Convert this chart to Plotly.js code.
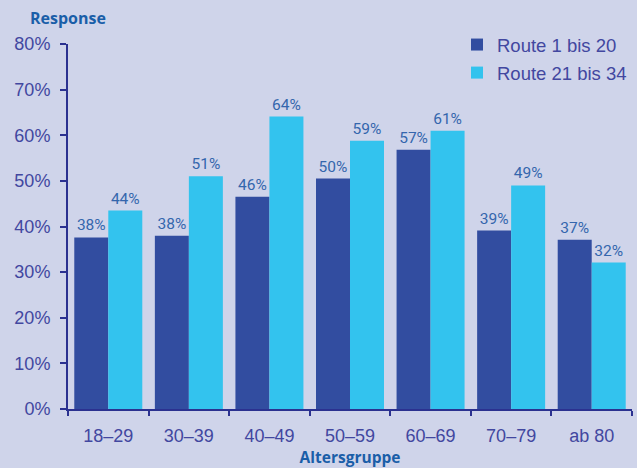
<!DOCTYPE html>
<html>
<head>
<meta charset="utf-8">
<script src="https://cdn.plot.ly/plotly-3.0.1.min.js"></script>
<style>html,body{margin:0;padding:0;background:#cfd4ea;}</style>
</head>
<body>
<div id="chart" style="width:637px;height:468px;"></div>
<script>
const categories = ["18–29", "30–39", "40–49", "50–59", "60–69", "70–79", "ab 80"];
const route1Values = [37.6, 38.0, 46.5, 50.5, 56.8, 39.1, 37.1];
const route1Labels = ["38%", "38%", "46%", "50%", "57%", "39%", "37%"];
const route2Values = [43.5, 51.0, 64.1, 58.8, 61.0, 49.0, 32.1];
const route2Labels = ["44%", "51%", "64%", "59%", "61%", "49%", "32%"];
const yTickVals = [0, 10, 20, 30, 40, 50, 60, 70, 80];
const yTickLabels = ["0%", "10%", "20%", "30%", "40%", "50%", "60%", "70%", "80%"];

const axisColor = "#2b3190";
const tickFontColor = "#4247a0";
const labelColor = "#3466ad";
const titleColor = "#1a5ea8";
const baseFont = "Liberation Sans, Arial, sans-serif";

const traces = [
  {
    type: "bar", name: "Route 1 bis 20", x: categories, y: route1Values,
    text: route1Labels, textposition: "outside", cliponaxis: false,
    textfont: {family: "Roboto, sans-serif", size: 15.5, color: labelColor},
    marker: {color: "#324da0"}, hoverinfo: "skip", legendgroup: "a"
  },
  {
    type: "bar", name: "Route 21 bis 34", x: categories, y: route2Values,
    text: route2Labels, textposition: "outside", cliponaxis: false,
    textfont: {family: "Roboto, sans-serif", size: 15.5, color: labelColor},
    marker: {color: "#33c3ee"}, hoverinfo: "skip", legendgroup: "b"
  }
];

const layout = {
  width: 637, height: 468,
  paper_bgcolor: "#cfd4ea", plot_bgcolor: "#cfd4ea",
  margin: {l: 68, r: 5, t: 44, b: 58.5},
  barmode: "group", bargap: 0.156, bargroupgap: 0,
  font: {family: baseFont, color: tickFontColor},
  title: {
    text: "<b>Response</b>", xref: "container", yref: "container",
    x: 30 / 637, xanchor: "left", y: 1 - 18 / 468, yanchor: "middle",
    font: {family: "Open Sans, sans-serif", size: 16, color: titleColor}
  },
  xaxis: {
    type: "category", tickson: "boundaries", ticks: "outside", ticklen: 5, tickwidth: 2,
    tickcolor: axisColor, showline: true, linecolor: axisColor, linewidth: 2,
    tickfont: {family: baseFont, size: 18, color: tickFontColor},
    showgrid: false, zeroline: false, ticklabelstandoff: 9,
    title: {text: "<b>Altersgruppe</b>", standoff: 6,
            font: {family: "Open Sans, sans-serif", size: 15.5, color: titleColor}}
  },
  yaxis: {
    range: [0, 80], tickmode: "array", tickvals: yTickVals, ticktext: yTickLabels,
    ticks: "outside", ticklen: 6, tickwidth: 2, tickcolor: axisColor,
    showline: true, linecolor: axisColor, linewidth: 2,
    tickfont: {family: baseFont, size: 18, color: tickFontColor},
    showgrid: false, zeroline: false, ticklabelstandoff: 6
  },
  legend: {
    x: 1, xanchor: "right", y: 1 + 18/365.5, yanchor: "top",
    bgcolor: "rgba(0,0,0,0)", traceorder: "grouped", tracegroupgap: 1,
    font: {family: baseFont, size: 18.5, color: tickFontColor}
  },
  showlegend: true
};

Plotly.newPlot("chart", traces, layout, {staticPlot: true, displayModeBar: false});
</script>
</body>
</html>
